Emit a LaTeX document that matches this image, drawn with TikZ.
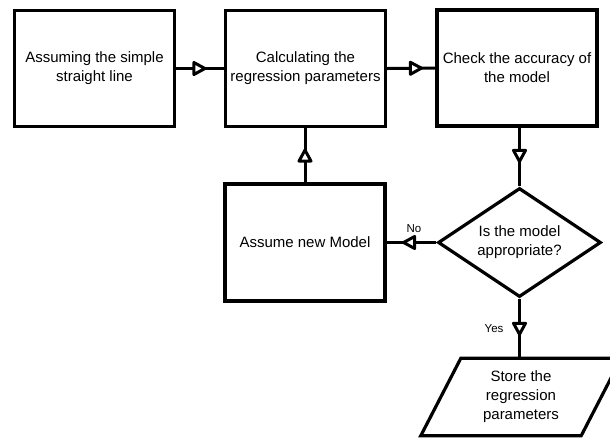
\documentclass[tikz,border=0pt]{standalone}
\usepackage{fontspec}
\setmainfont{Liberation Sans}
\usetikzlibrary{shapes.geometric,decorations.markings}
\begin{document}
\begin{tikzpicture}[x=1pt,y=-1pt,
  every node/.style={font=\fontsize{15}{19}\selectfont, align=center},
  procbox/.style={draw, line width=3.2pt, minimum width=160pt, minimum height=116pt, inner sep=0pt},
  flow/.style={line width=3pt, postaction=decorate},
  tipat/.style={decoration={markings, mark=at position #1 with {
      \draw[line width=3pt, fill=white, line join=round]
        (-1pt,0pt) -- (-12pt,6pt) -- (-12pt,-6pt) -- cycle;}}},
  lbl/.style={font=\fontsize{11.5}{13}\selectfont, inner sep=0pt}]
  \useasboundingbox (0,0) rectangle (610,440);
  \clip (0,0) rectangle (610,440);

  % process boxes
  \node[procbox] (assume) at (94.5,68.5) {Assuming the simple\\straight line};
  \node[procbox] (calc) at (305.5,68.5) {Calculating the\\regression parameters};
  \node[procbox] (check) at (517,68) {Check the accuracy of\\the model};
  \node[procbox, minimum height=117pt] (newmod) at (305,242.5) {Assume new Model};

  % decision
  \node[diamond, draw, line width=3.2pt, minimum width=163pt, minimum height=109pt, inner sep=0pt] (dec) at (519.5,242.5) {};
  \node at (dec) {Is the model\\appropriate?};

  % output (parallelogram)
  \node[minimum width=160pt, minimum height=77pt, inner sep=0pt] (store) at (521,397) {Store the\\regression\\parameters};
  \draw[line width=3.2pt, line join=miter]
    ([xshift=20pt]store.north west) -- ([xshift=20pt]store.north east)
    -- ([xshift=-20pt]store.south east) -- ([xshift=-20pt]store.south west) -- cycle;

  % connectors
  \draw[flow, tipat=-18pt] (assume.east) -- (calc.west);
  \draw[flow, tipat=-13pt] (calc.east) -- (check.west);
  \draw[flow, tipat=-24pt] (check.south -| dec.north) -- (dec.north);
  \draw[flow, tipat=-21pt] (newmod.north) -- (newmod.north |- calc.south);
  \draw[flow, tipat=-16pt] (dec.west) -- (newmod.east);
  \draw[flow, tipat=-23pt] (dec.south) -- (dec.south |- store.north);

  % branch labels
  \node[lbl] (nolbl) at (414,229) {No};
  \node[lbl] (yeslbl) at (494,329) {Yes};
\end{tikzpicture}
\end{document}
